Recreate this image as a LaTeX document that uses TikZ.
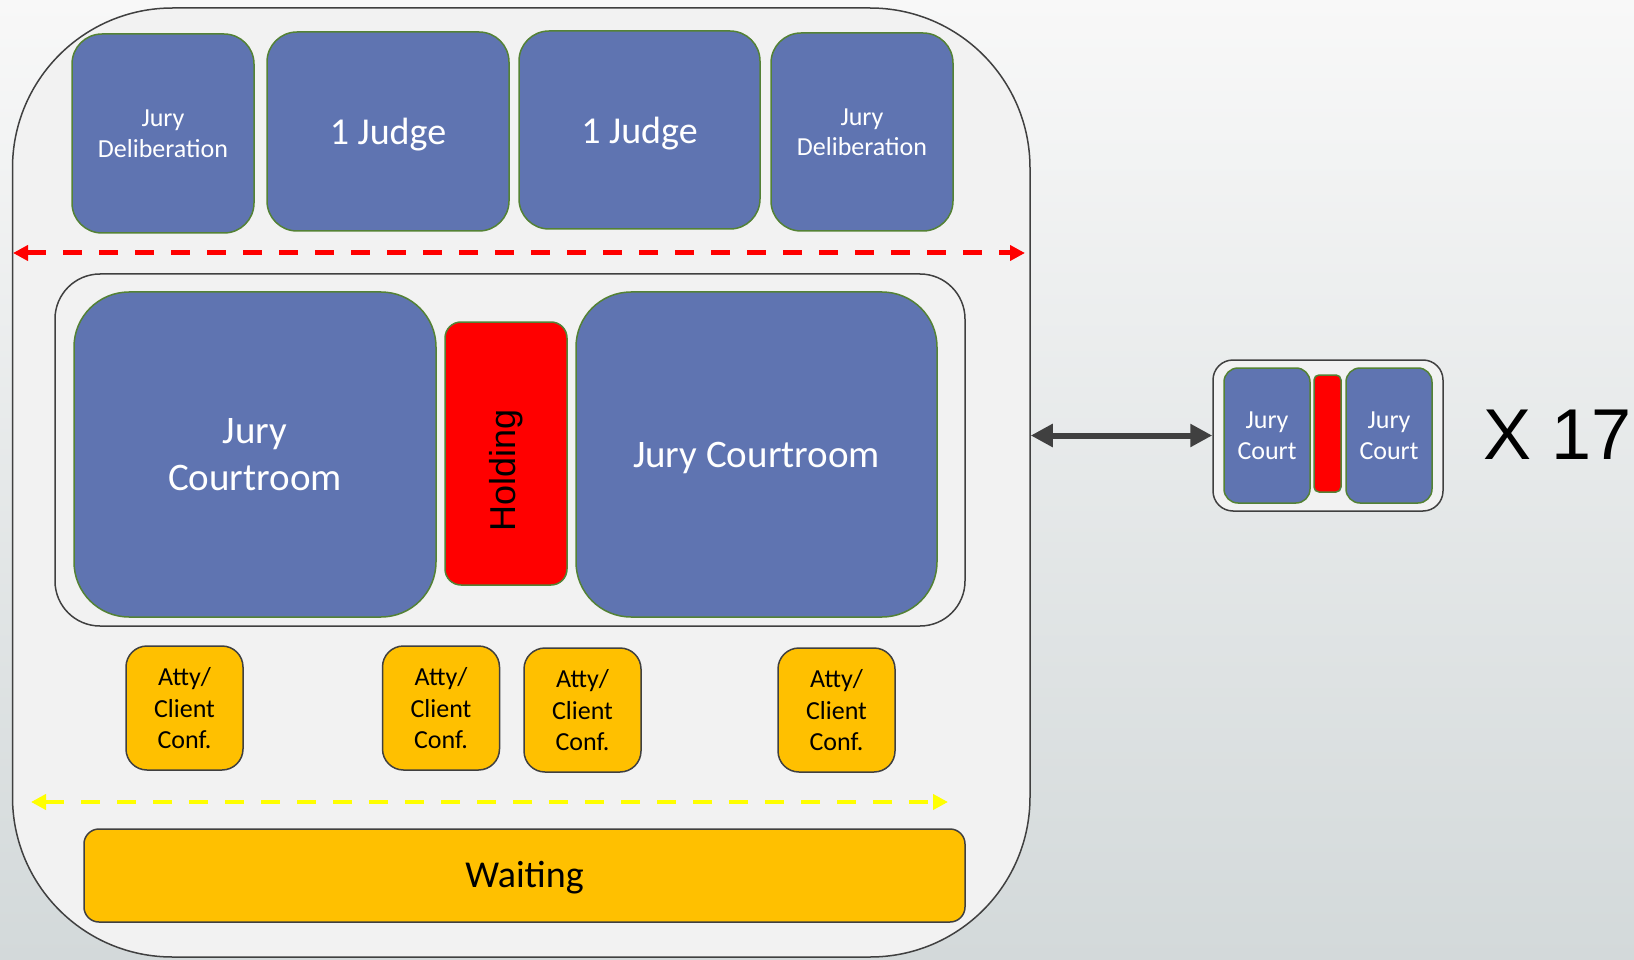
\documentclass[tikz,border=0pt]{standalone}
\usepackage{fontspec}
\usepackage{graphicx}
\setmainfont{Carlito}
\newfontfamily\arialfont{Liberation Sans}
\usetikzlibrary{arrows.meta}

\definecolor{roomblue}{RGB}{95,116,177}
\definecolor{roomedge}{RGB}{84,130,53}
\definecolor{holdred}{RGB}{255,0,0}
\definecolor{amber}{RGB}{255,192,0}
\definecolor{frameedge}{RGB}{64,64,64}
\definecolor{framefill}{RGB}{242,242,242}
\definecolor{bgtop}{RGB}{248,248,248}
\definecolor{bgbottom}{RGB}{211,217,218}
\definecolor{flowyellow}{RGB}{255,255,0}

\tikzset{
  box/.style={rectangle, inner sep=0pt, align=center},
  room/.style={box, fill=roomblue, draw=roomedge, line width=1.5pt, text=white},
  hold/.style={box, fill=holdred, draw=roomedge, line width=1.5pt, text=black},
  conf/.style={box, fill=amber, draw=frameedge, line width=1.5pt, text=black,
               rounded corners=21pt, minimum width=117pt, minimum height=124pt,
               font=\fontsize{26}{31.5}\selectfont, text depth=-2pt},
  frame/.style={box, fill=framefill, draw=frameedge, line width=1.5pt},
  smalltxt/.style={font=\fontsize{26}{30.5}\selectfont, text depth=-4pt},
  bigtxt/.style={font=\fontsize{39}{47}\selectfont},
  flow/.style={line width=5pt, dash pattern=on 19pt off 17pt,
               {Triangle[length=15pt,width=15pt]}-{Triangle[length=15pt,width=15pt]}},
  link/.style={line width=6pt, draw=frameedge,
               {Triangle[length=22pt,width=22pt]}-{Triangle[length=22pt,width=22pt]}},
}

\begin{document}
\begin{tikzpicture}[x=1pt,y=-1pt]
  % page background
  \shade[top color=bgtop, bottom color=bgbottom] (0,0) rectangle (1634,960);
  \useasboundingbox (0,0) rectangle (1634,960);

  % building outline
  \node[frame, rounded corners=160pt, minimum width=1017.5pt, minimum height=949pt]
    (building) at (521.25,482.5) {};

  % judges' floor
  \node[room, rounded corners=30pt, minimum width=182pt, minimum height=199pt, smalltxt]
    (delibL) at (163,133.5) {Jury\\Deliberation};
  \node[room, rounded corners=30pt, minimum width=242pt, minimum height=199pt,
        font=\fontsize{38}{46}\selectfont, text depth=0pt]
    (judgeA) at (388,131.5) {1 Judge};
  \node[room, rounded corners=30pt, minimum width=241pt, minimum height=198pt,
        font=\fontsize{38}{46}\selectfont, text depth=0pt]
    (judgeB) at (639.5,130) {1 Judge};
  \node[room, rounded corners=30pt, minimum width=182pt, minimum height=198pt, smalltxt]
    (delibR) at (862,132) {Jury\\Deliberation};

  % secure corridor
  \coordinate (redL) at (13,253);
  \coordinate (redR) at (1025,253);
  \draw[flow, draw=holdred] (redL) -- (redR);

  % courtroom pair with holding cell
  \node[frame, rounded corners=45pt, minimum width=910pt, minimum height=352pt]
    (pair) at (510,450) {};
  \node[room, rounded corners=55pt, minimum width=362pt, minimum height=325pt, bigtxt,
        text depth=-4pt]
    (courtL) at (255,454.5) {Jury\\Courtroom};
  \node[hold, rounded corners=16pt, minimum width=122pt, minimum height=263pt,
        font=\arialfont\fontsize{36}{40}\selectfont]
    (holding) at (506,453.5) {\rotatebox{90}{Holding\hspace*{34pt}}};
  \node[room, rounded corners=55pt, minimum width=361pt, minimum height=325pt, bigtxt,
        text depth=-1pt]
    (courtR) at (756.5,454.5) {Jury Courtroom};

  % attorney / client conference rooms
  \node[conf] (confA) at (184.5,708) {Atty/\\Client\\Conf.};
  \node[conf] (confB) at (441,708) {Atty/\\Client\\Conf.};
  \node[conf] (confC) at (582.5,710) {Atty/\\Client\\Conf.};
  \node[conf] (confD) at (836.5,710) {Atty/\\Client\\Conf.};

  % public corridor
  \coordinate (yelL) at (31,802);
  \coordinate (yelR) at (948,802);
  \draw[flow, line width=4.5pt, draw=flowyellow] (yelL) -- (yelR);

  % waiting area
  \node[box, fill=amber, draw=frameedge, line width=1.5pt, rounded corners=15pt,
        minimum width=881pt, minimum height=93pt, font=\fontsize{38}{46}\selectfont,
        text depth=1.5pt]
    (waiting) at (524.5,875.5) {Waiting};

  % repeated unit
  \node[frame, rounded corners=20pt, minimum width=230pt, minimum height=151pt]
    (unit) at (1328,435.5) {};
  \node[room, rounded corners=14pt, minimum width=86pt, minimum height=135pt, smalltxt]
    (miniL) at (1267,435.5) {Jury\\Court};
  \node[hold, rounded corners=5pt, minimum width=27pt, minimum height=117pt]
    (miniHold) at (1327.5,433.5) {};
  \node[room, rounded corners=14pt, minimum width=86pt, minimum height=135pt, smalltxt]
    (miniR) at (1389,435.5) {Jury\\Court};

  \draw[link] (building.east |- unit.west) -- (unit.west);

  \node[font=\arialfont\fontsize{72}{80}\selectfont, inner sep=0pt, text depth=-3pt]
    (times) at (1558,435) {X 17};
\end{tikzpicture}
\end{document}
